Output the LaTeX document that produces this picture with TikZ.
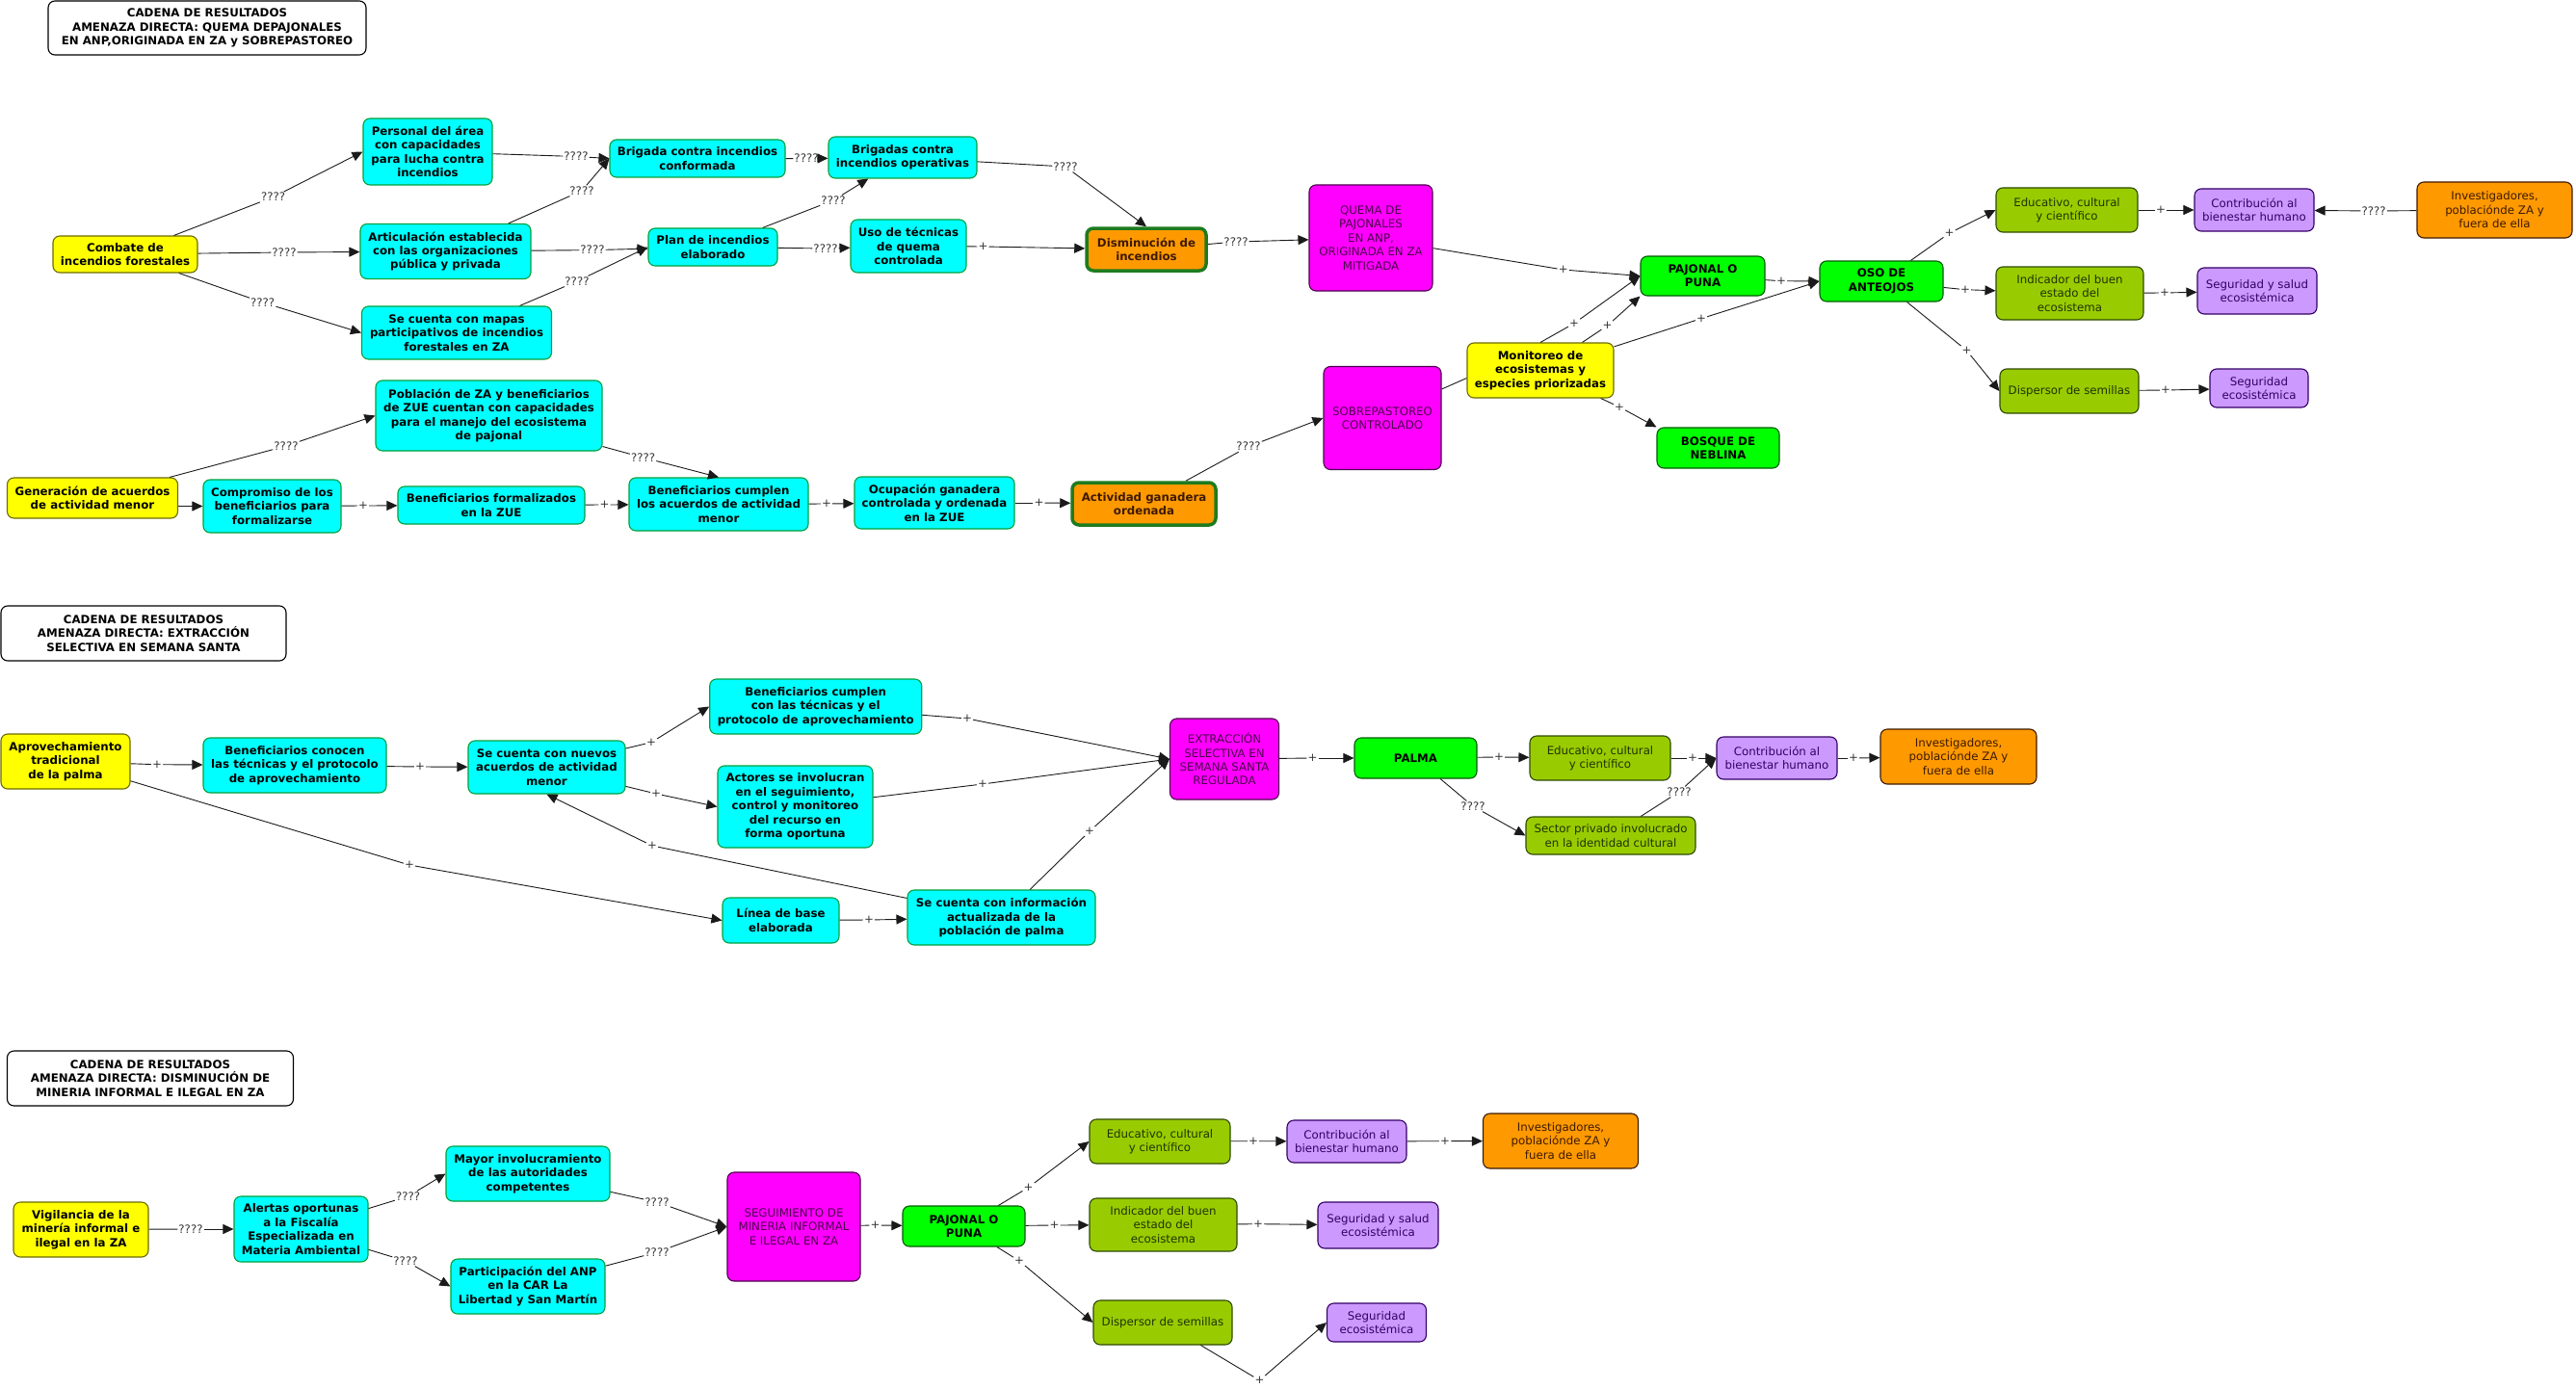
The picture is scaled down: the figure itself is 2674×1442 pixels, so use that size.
\documentclass[tikz,border=0pt]{standalone}
\usepackage{fontspec}
\setmainfont{DejaVu Sans}
\usepackage{tikz}
\usetikzlibrary{arrows.meta}
\definecolor{Aqua}{HTML}{00FFFF}
\definecolor{AquaEdge}{HTML}{00A03C}
\definecolor{Lemon}{HTML}{FFFF00}
\definecolor{LemonEdge}{HTML}{6B6B00}
\definecolor{Tang}{HTML}{FF9900}
\definecolor{TangEdge}{HTML}{1E7B1E}
\definecolor{TangInk}{HTML}{3D1A00}
\definecolor{Fuchsia}{HTML}{FF00FF}
\definecolor{FuchsiaEdge}{HTML}{4D004D}
\definecolor{FuchsiaInk}{HTML}{4A004A}
\definecolor{Lime}{HTML}{00FF00}
\definecolor{LimeEdge}{HTML}{005C00}
\definecolor{Olive}{HTML}{99CC00}
\definecolor{OliveEdge}{HTML}{2E4A00}
\definecolor{OliveInk}{HTML}{1F3300}
\definecolor{Lilac}{HTML}{CC99FF}
\definecolor{LilacEdge}{HTML}{330066}
\definecolor{Ink}{HTML}{1A1A1A}
\definecolor{Mute}{HTML}{333333}

\tikzset{
  base/.style={rectangle, rounded corners=7pt, align=center, inner sep=2pt,
    line width=1.1pt, font=\fontsize{11.8}{14.4}\selectfont},
  sz/.style 2 args={minimum width=#1pt, minimum height=#2pt},
  titlebox/.style={base, draw=black, fill=white, font=\fontsize{11.8}{14.4}\selectfont\bfseries},
  cy/.style={base, draw=AquaEdge, fill=Aqua, font=\fontsize{11.8}{14.4}\selectfont\bfseries},
  ye/.style={base, draw=LemonEdge, fill=Lemon, font=\fontsize{11.8}{14.4}\selectfont\bfseries},
  orthick/.style={base, draw=TangEdge, line width=3.5pt, fill=Tang, text=TangInk,
    font=\fontsize{11.8}{14.4}\selectfont\bfseries},
  mg/.style={base, draw=FuchsiaEdge, fill=Fuchsia, text=FuchsiaInk},
  gr/.style={base, draw=LimeEdge, fill=Lime, font=\fontsize{11.8}{14.4}\selectfont\bfseries},
  ol/.style={base, draw=OliveEdge, fill=Olive, text=OliveInk},
  li/.style={base, draw=LilacEdge, fill=Lilac, text=LilacEdge},
  orbox/.style={base, draw=TangInk, fill=Tang, text=TangInk},
  lbl/.style={font=\fontsize{11.8}{14}\selectfont, text=Mute, inner sep=1pt},
  link/.style={draw=Ink, line width=0.9pt},
  arr/.style={-{Triangle[length=11pt,width=10pt]}}
}

\begin{document}
\begin{tikzpicture}[x=1pt,y=-1pt]
  \useasboundingbox (0,0) rectangle (2674,1442);

  % cadena 1: quema de pajonales y sobrepastoreo
  \node[titlebox, sz={330}{56}] (t1) at (215,29) {CADENA DE RESULTADOS\\AMENAZA DIRECTA: QUEMA DEPAJONALES\\EN ANP,ORIGINADA EN ZA y SOBREPASTOREO};
  \node[ye, sz={150}{38}] (cmb) at (130,264) {Combate de\\incendios forestales};
  \node[cy, sz={134}{69}] (per) at (444,157.5) {Personal del área\\con capacidades\\para lucha contra\\incendios};
  \node[cy, sz={177}{57}] (art) at (462.5,261) {Articulación establecida\\con las organizaciones\\pública y privada};
  \node[cy, sz={197}{55}] (map) at (474,345.5) {Se cuenta con mapas\\participativos de incendios\\forestales en ZA};
  \node[cy, sz={182}{39}] (bcf) at (724,164.5) {Brigada contra incendios\\conformada};
  \node[cy, sz={134}{39}] (pln) at (740,256.5) {Plan de incendios\\elaborado};
  \node[cy, sz={154}{43}] (bop) at (937,163.5) {Brigadas contra\\incendios operativas};
  \node[cy, sz={120}{55}] (uso) at (943,255.5) {Uso de técnicas\\de quema\\controlada};
  \node[orthick, sz={124}{44}] (dis) at (1190,259) {Disminución de\\incendios};
  \node[mg, sz={128}{110}] (que) at (1423,247) {QUEMA DE\\PAJONALES\\EN ANP,\\ORIGINADA EN ZA\\MITIGADA};
  \node[ye, sz={177}{42}] (gen) at (96,517) {Generación de acuerdos\\de actividad menor};
  \node[cy, sz={235}{73}] (pob) at (507.5,431.5) {Población de ZA y beneficiarios\\de ZUE cuentan con capacidades\\para el manejo del ecosistema\\de pajonal};
  \node[cy, sz={143}{55}] (cmp) at (282.5,525.5) {Compromiso de los\\beneficiarios para\\formalizarse};
  \node[cy, sz={194}{39}] (bfz) at (510,524.5) {Beneficiarios formalizados\\en la ZUE};
  \node[cy, sz={186}{55}] (bca) at (746,523.5) {Beneficiarios cumplen\\los acuerdos de actividad\\menor};
  \node[cy, sz={166}{54}] (ocu) at (970,522) {Ocupación ganadera\\controlada y ordenada\\en la ZUE};
  \node[orthick, sz={149}{44}] (act) at (1187.5,523) {Actividad ganadera\\ordenada};
  \node[mg, sz={122}{107}] (sob) at (1435,434) {SOBREPASTOREO\\CONTROLADO};
  \node[ye, sz={152}{57}] (mon) at (1599,384.5) {Monitoreo de\\ecosistemas y\\especies priorizadas};
  \node[gr, sz={129}{41}] (paj) at (1767.5,286.5) {PAJONAL O\\PUNA};
  \node[gr, sz={128}{42}] (oso) at (1953,292) {OSO DE\\ANTEOJOS};
  \node[gr, sz={127}{42}] (bos) at (1783.5,465) {BOSQUE DE\\NEBLINA};
  \node[ol, sz={147}{46}] (edu) at (2145.5,218) {Educativo, cultural\\y científico};
  \node[ol, sz={153}{55}] (ind) at (2148.5,304.5) {Indicador del buen\\estado del\\ecosistema};
  \node[ol, sz={144}{46}] (dsp) at (2148,406) {Dispersor de semillas};
  \node[li, sz={124}{44}] (con) at (2340,218) {Contribución al\\bienestar humano};
  \node[li, sz={124}{48}] (seg) at (2343,302) {Seguridad y salud\\ecosistémica};
  \node[li, sz={102}{40}] (sec) at (2345,403) {Seguridad\\ecosistémica};
  \node[orbox, sz={161}{58}] (inv) at (2589.5,218) {Investigadores,\\poblaciónde ZA y\\fuera de ella};

  % cadena 2: extraccion selectiva
  \node[titlebox, sz={296}{57}] (t2) at (149,657.5) {CADENA DE RESULTADOS\\AMENAZA DIRECTA: EXTRACCIÓN\\SELECTIVA EN SEMANA SANTA};
  \node[ye, sz={134}{57}] (apr) at (68,790.5) {Aprovechamiento\\tradicional\\de la palma};
  \node[cy, sz={190}{57}] (bco) at (306,794.5) {Beneficiarios conocen\\las técnicas y el protocolo\\de aprovechamiento};
  \node[cy, sz={163}{55}] (snu) at (567.5,796.5) {Se cuenta con nuevos\\acuerdos de actividad\\menor};
  \node[cy, sz={220}{57}] (bct) at (846.7,733.5) {Beneficiarios cumplen\\con las técnicas y el\\protocolo de aprovechamiento};
  \node[cy, sz={161}{85}] (aci) at (825.5,837.5) {Actores se involucran\\en el seguimiento,\\control y monitoreo\\del recurso en\\forma oportuna};
  \node[cy, sz={121}{47}] (lin) at (810.5,955.5) {Línea de base\\elaborada};
  \node[cy, sz={195}{57}] (sci) at (1039.5,952.5) {Se cuenta con información\\actualizada de la\\población de palma};
  \node[mg, sz={113}{84}] (ext) at (1271,788) {EXTRACCIÓN\\SELECTIVA EN\\SEMANA SANTA\\REGULADA};
  \node[gr, sz={127}{42}] (pal) at (1469.5,787) {PALMA};
  \node[ol, sz={146}{46}] (ed2) at (1661,787) {Educativo, cultural\\y científico};
  \node[ol, sz={176}{39}] (spr) at (1672,867.5) {Sector privado involucrado\\en la identidad cultural};
  \node[li, sz={125}{44}] (co2) at (1844.5,787) {Contribución al\\bienestar humano};
  \node[orbox, sz={162}{57}] (in2) at (2033,785.5) {Investigadores,\\poblaciónde ZA y\\fuera de ella};

  % cadena 3: mineria informal e ilegal
  \node[titlebox, sz={297}{57}] (t3) at (156,1119.5) {CADENA DE RESULTADOS\\AMENAZA DIRECTA: DISMINUCIÓN DE\\MINERIA INFORMAL E ILEGAL EN ZA};
  \node[ye, sz={140}{57}] (vig) at (84,1276.5) {Vigilancia de la\\minería informal e\\ilegal en la ZA};
  \node[cy, sz={139}{68}] (ale) at (312.5,1276) {Alertas oportunas\\a la Fiscalía\\Especializada en\\Materia Ambiental};
  \node[cy, sz={170}{57}] (may) at (548,1218.5) {Mayor involucramiento\\de las autoridades\\competentes};
  \node[cy, sz={160}{57}] (par) at (548,1335.5) {Participación del ANP\\en la CAR La\\Libertad y San Martín};
  \node[mg, sz={138}{113}] (sgm) at (824,1273.5) {SEGUIMIENTO DE\\MINERIA INFORMAL\\E ILEGAL EN ZA};
  \node[gr, sz={127}{42}] (pa3) at (1000.5,1273) {PAJONAL O\\PUNA};
  \node[ol, sz={146}{46}] (ed3) at (1204,1185) {Educativo, cultural\\y científico};
  \node[ol, sz={153}{55}] (id3) at (1207.5,1271.5) {Indicador del buen\\estado del\\ecosistema};
  \node[ol, sz={144}{46}] (ds3) at (1207,1373) {Dispersor de semillas};
  \node[li, sz={124}{44}] (co3) at (1398,1185) {Contribución al\\bienestar humano};
  \node[li, sz={125}{48}] (sg3) at (1430.5,1272) {Seguridad y salud\\ecosistémica};
  \node[li, sz={103}{40}] (se3) at (1429,1373) {Seguridad\\ecosistémica};
  \node[orbox, sz={161}{57}] (in3) at (1620,1184.5) {Investigadores,\\poblaciónde ZA y\\fuera de ella};

  % etiquetas de enlace
  \foreach \n/\x/\y/\t in {
    l1/283.6/204.6/????, l2/295/262/????, l3/272.7/314/????, l4/598/162.5/????,
    l5/604/198/????, l6/837/164.6/????, l7/615/259.6/????, l8/599/292/????,
    l9/865/208/????, l10/857/258/????, l11/1106/173/????, l12/1020.5/256/+,
    l13/1283/251/????, l14/1622.7/280/+, l15/1634/335.7/+, l16/1668.6/338/+,
    l17/1766/330.7/+, l18/1681/422.5/+, l19/1849/291.7/+, l20/2023.6/242/+,
    l21/2040/300.7/+, l22/2041.6/364/+, l23/2243/218/+, l24/2464/219/????,
    l25/2247/304/+, l26/2248/405/+, l27/297/463/????, l29/377/525/+,
    l30/627.5/524/+, l31/667.6/475/????, l32/858/523/+, l33/1078.5/522/+,
    l34/1296/463.6/????,
    m1/163/793.7/+, m2/436/796/+, m3/676/770.7/+, m4/681/824/+,
    m5/425/898/+, m6/677/878/+, m7/1004/746/+, m8/1020/814/+,
    m9/1131/863/+, m10/902/955/+, m11/1362.6/787/+, m12/1556/786/+,
    m13/1529/837/????, m14/1757/787/+, m15/1743/822/????, m16/1924/787/+,
    n1/198/1276/????, n2/423.6/1242/????, n3/421/1309/????, n4/682/1248/????,
    n5/682/1300/????, n6/908.6/1272/+, n7/1067.6/1232.7/+, n8/1094.5/1272/+,
    n9/1058/1309/+, n10/1301/1184.7/+, n11/1500/1184.7/+, n12/1306/1270.7/+,
    n13/1307.5/1433/+}
    \node[lbl] (\n) at (\x,\y) {\t};

  % enlaces: origen -- etiqueta -> destino
  \foreach \a/\l/\b in {
    cmb/l1/per.west, cmb/l2/art, cmb/l3/map.west, per/l4/bcf.west,
    art/l5/bcf.west, bcf/l6/bop, art/l7/pln, map/l8/pln.west,
    pln/l9/bop, pln/l10/uso, bop/l11/dis.north, uso/l12/dis,
    dis/l13/que, que/l14/paj.west, mon.north/l15/paj.west, mon/l16/paj.south west,
    mon/l17/oso.west, mon/l18/bos.north west, paj/l19/oso.west, oso/l20/edu.west,
    oso/l21/ind, oso/l22/dsp.west, edu/l23/con, inv/l24/con,
    ind/l25/seg, dsp/l26/sec, gen/l27/pob.west, cmp/l29/bfz,
    bfz/l30/bca, pob/l31/bca.north, bca/l32/ocu, ocu/l33/act,
    act/l34/sob.west,
    apr/m1/bco, bco/m2/snu, snu/m3/bct.west, snu/m4/aci.west,
    apr/m5/lin.west, sci/m6/snu.south, bct/m7/ext.west, aci/m8/ext.west,
    sci/m9/ext.west, lin/m10/sci, ext/m11/pal, pal/m12/ed2,
    pal/m13/spr.west, ed2/m14/co2, spr/m15/co2.west, co2/m16/in2,
    vig/n1/ale, ale/n2/may.west, ale/n3/par.west, may/n4/sgm.west,
    par/n5/sgm.west, sgm/n6/pa3, pa3/n7/ed3.west, pa3/n8/id3,
    pa3/n9/ds3.west, ed3/n10/co3, co3/n11/in3, id3/n12/sg3,
    ds3/n13/se3.west} {
    \draw[link] (\a) -- (\l);
    \draw[link,arr] (\l) -- (\b);
  }
  \draw[link,arr] (gen.east |- cmp) -- (cmp.west);
  \draw[link] (sob.26) -- (mon.186);
\end{tikzpicture}
\end{document}
